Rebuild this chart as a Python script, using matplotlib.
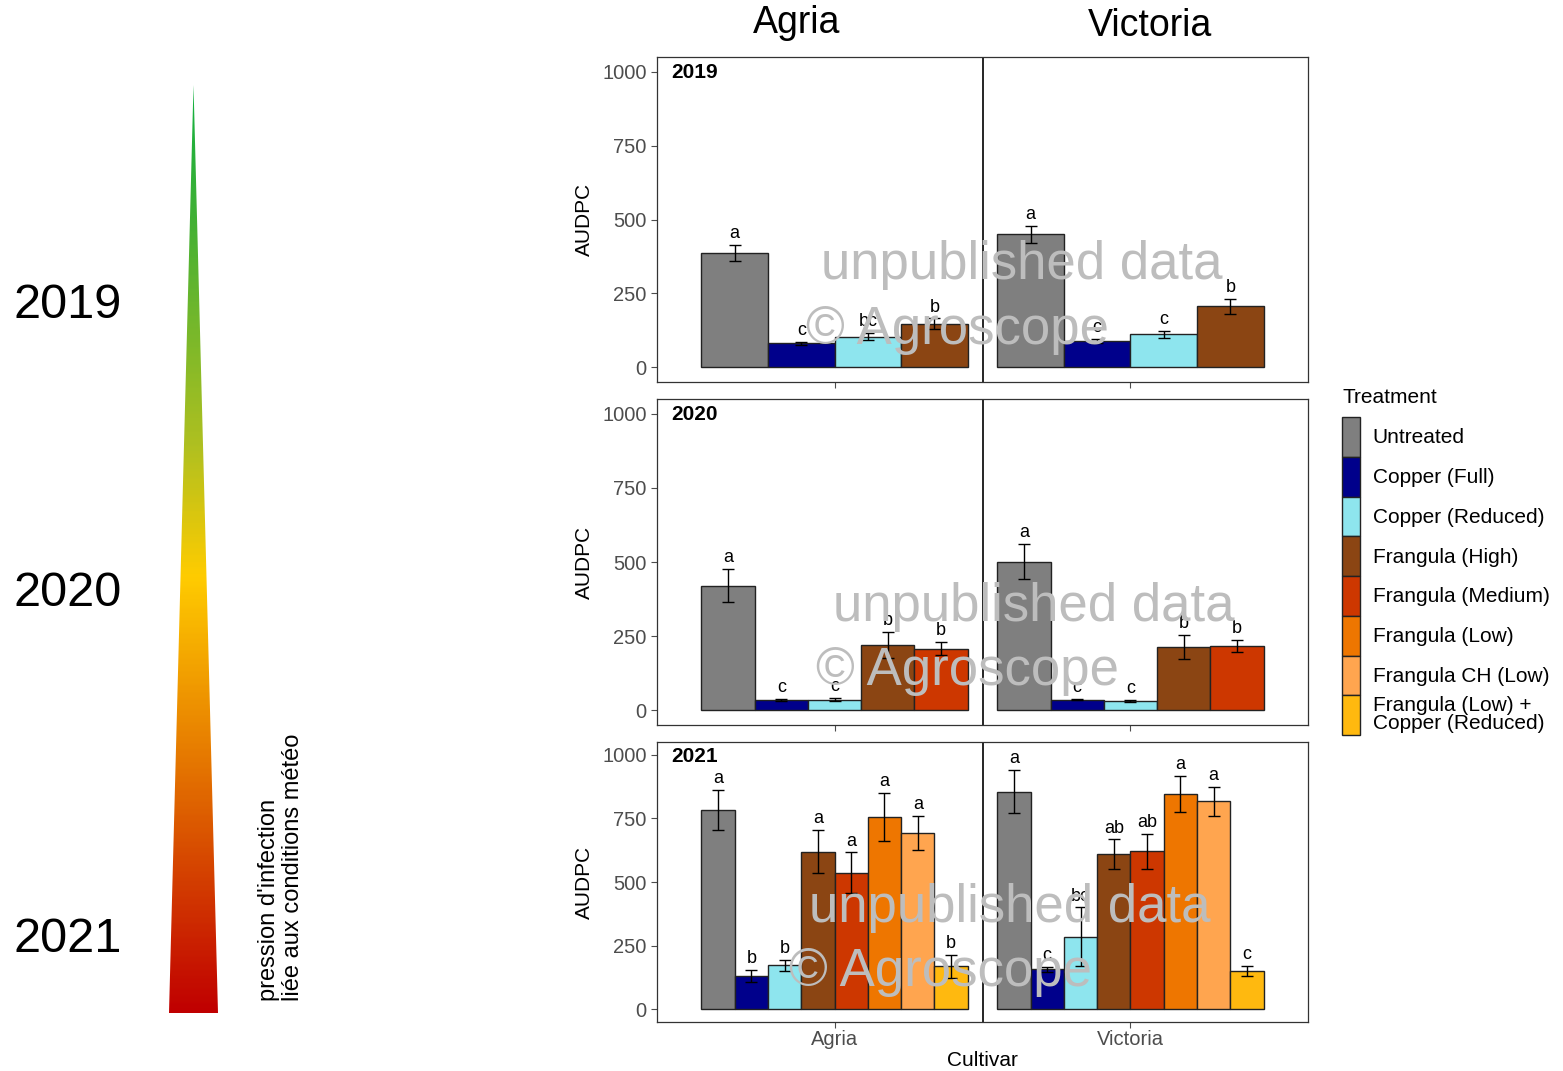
import numpy as np
import matplotlib
matplotlib.use('Agg')
import matplotlib.pyplot as plt
from matplotlib.colors import LinearSegmentedColormap
from matplotlib.patches import Polygon

plt.rcParams['font.family'] = ['Liberation Sans', 'DejaVu Sans']

# ---- data ----
cultivars = ['Agria', 'Victoria']
years = ['2019', '2020', '2021']
treatments = ['Untreated', 'Copper (Full)', 'Copper (Reduced)', 'Frangula (High)',
              'Frangula (Medium)', 'Frangula (Low)', 'Frangula CH (Low)',
              'Frangula (Low) +\nCopper (Reduced)']
colors = ['#7F7F7F', '#00008B', '#8EE5EE', '#8B4513',
          '#CD3700', '#EE7600', '#FFA54F', '#FFB90F']

# number of treatments tested each year (first n of the list)
n_treat = [4, 5, 8]

mean_2019 = [[386, 81, 104, 148], [450, 88, 111, 206]]
se_2019 = [[27, 5, 12, 17], [29, 7, 12, 25]]
let_2019 = [['a', 'c', 'bc', 'b'], ['a', 'c', 'c', 'b']]

mean_2020 = [[420, 34, 36, 220, 208], [501, 36, 32, 214, 218]]
se_2020 = [[55, 3, 5, 45, 22], [59, 3, 3, 40, 20]]
let_2020 = [['a', 'c', 'c', 'b', 'b'], ['a', 'c', 'c', 'b', 'b']]

mean_2021 = [[782, 132, 173, 619, 536, 755, 693, 169],
             [855, 158, 285, 610, 620, 846, 817, 150]]
se_2021 = [[79, 23, 22, 85, 80, 93, 68, 45],
           [85, 10, 115, 57, 70, 72, 58, 20]]
let_2021 = [['a', 'b', 'b', 'a', 'a', 'a', 'a', 'b'],
            ['a', 'c', 'bc', 'ab', 'ab', 'a', 'a', 'c']]

means = [mean_2019, mean_2020, mean_2021]
ses = [se_2019, se_2020, se_2021]
letters = [let_2019, let_2020, let_2021]

W, H = 1563, 1071
fig = plt.figure(figsize=(W / 100, H / 100), dpi=100)


def fx(px):
    return px / W


def fy(py):
    return 1 - py / H


# panel boxes in pixels (top, bottom)
panel_px = [(57, 382), (399, 725), (742, 1022)]
left_px, right_px = 657, 1308

axes = []
for p, (top, bot) in enumerate(panel_px):
    ax = fig.add_axes([fx(left_px), fy(bot), fx(right_px - left_px), (bot - top) / H])
    axes.append(ax)
    n = n_treat[p]
    width = 0.9 / n
    for c in range(len(cultivars)):
        for i in range(n):
            xc = (c + 1) - 0.45 + (i + 0.5) * width
            m = means[p][c][i]
            s = ses[p][c][i]
            ax.bar(xc, m, width=width, color=colors[i], edgecolor='#222222',
                   linewidth=1.0, zorder=2, label=treatments[i] if c == 0 else None)
            ax.errorbar(xc, m, yerr=s, color='black', capsize=4, elinewidth=1,
                        capthick=1, zorder=3)
            ax.annotate(letters[p][c][i], (xc, m + s), xytext=(0, 5),
                        textcoords='offset points', ha='center', va='baseline',
                        fontsize=13, zorder=4)
    ax.axvline(1.5, color='black', linewidth=1.2, zorder=1)
    ax.set_xlim(0.4, 2.6)
    ax.set_ylim(-50, 1050)
    ax.set_yticks([0, 250, 500, 750, 1000])
    ax.set_xticks([1, 2])
    ax.tick_params(axis='both', colors='#4D4D4D', labelsize=14.5, length=4,
                   width=0.8)
    ax.tick_params(axis='x', pad=2)
    for sp in ax.spines.values():
        sp.set_color('#333333')
        sp.set_linewidth(0.9)
    ax.set_ylabel('AUDPC', fontsize=15, labelpad=6)
    ax.annotate(years[p], (0, 1), xycoords='axes fraction', xytext=(14, -15),
                textcoords='offset pixels', ha='left', va='center',
                fontsize=15, fontweight='bold')
    if p < 2:
        ax.set_xticklabels([])
    else:
        ax.set_xticklabels(cultivars)
        ax.set_xlabel('Cultivar', fontsize=15, labelpad=1)

# column headers
fig.text(fx(797), fy(23), 'Agria', fontsize=27, ha='center', va='center')
fig.text(fx(1150), fy(26), 'Victoria', fontsize=27, ha='center', va='center')

# legend
handles, labels = axes[2].get_legend_handles_labels()
leg = fig.legend(handles, labels, loc='upper left',
                 bbox_to_anchor=(fx(1334), fy(380)), frameon=False,
                 title='Treatment', fontsize=15, title_fontsize=15,
                 handlelength=0.85, handleheight=2.56, labelspacing=0,
                 handletextpad=0.6, alignment='left', borderaxespad=0)
for t in leg.get_texts():
    t.set_linespacing(0.95)
leg._legend_box.sep = 7

# watermarks
wm_color = '#BDBDBD'
wm = [((1022, 265), (958, 330)), ((1034, 607), (968, 671)), ((1010, 908), (940, 972))]
for (a, b) in wm:
    fig.text(fx(a[0]), fy(a[1]), 'unpublished data', fontsize=38, color=wm_color,
             ha='center', va='center', zorder=10)
    fig.text(fx(b[0]), fy(b[1]), '\u00a9 Agroscope', fontsize=38, color=wm_color,
             ha='center', va='center', zorder=10)

# gradient triangle (infection pressure)
tax = fig.add_axes([fx(169), fy(1013), fx(218 - 169), (1013 - 85) / H])
cmap = LinearSegmentedColormap.from_list(
    'press', [(0.0, '#10B040'), (0.14, '#40B035'), (0.39, '#B0C020'),
              (0.53, '#FFCC00'), (0.71, '#E88000'), (1.0, '#C00000')])
grad = np.linspace(0, 1, 400).reshape(-1, 1)
im = tax.imshow(grad, cmap=cmap, extent=[0, 1, 0, 1], origin='upper', aspect='auto')
tri = Polygon([[0, 0], [1, 0], [0.5, 1]], closed=True, transform=tax.transData)
im.set_clip_path(tri)
tax.set_xlim(0, 1)
tax.set_ylim(0, 1)
tax.axis('off')

for yr, ypx in zip(years, [305, 593, 940]):
    fig.text(fx(14), fy(ypx), yr, fontsize=35, ha='left', va='center')

fig.text(fx(281), fy(1001), "pression d'infection\nliée aux conditions météo",
         rotation=90, fontsize=17, ha='center', va='bottom',
         multialignment='left', linespacing=1.1)

fig.savefig('out.png', dpi=100)
